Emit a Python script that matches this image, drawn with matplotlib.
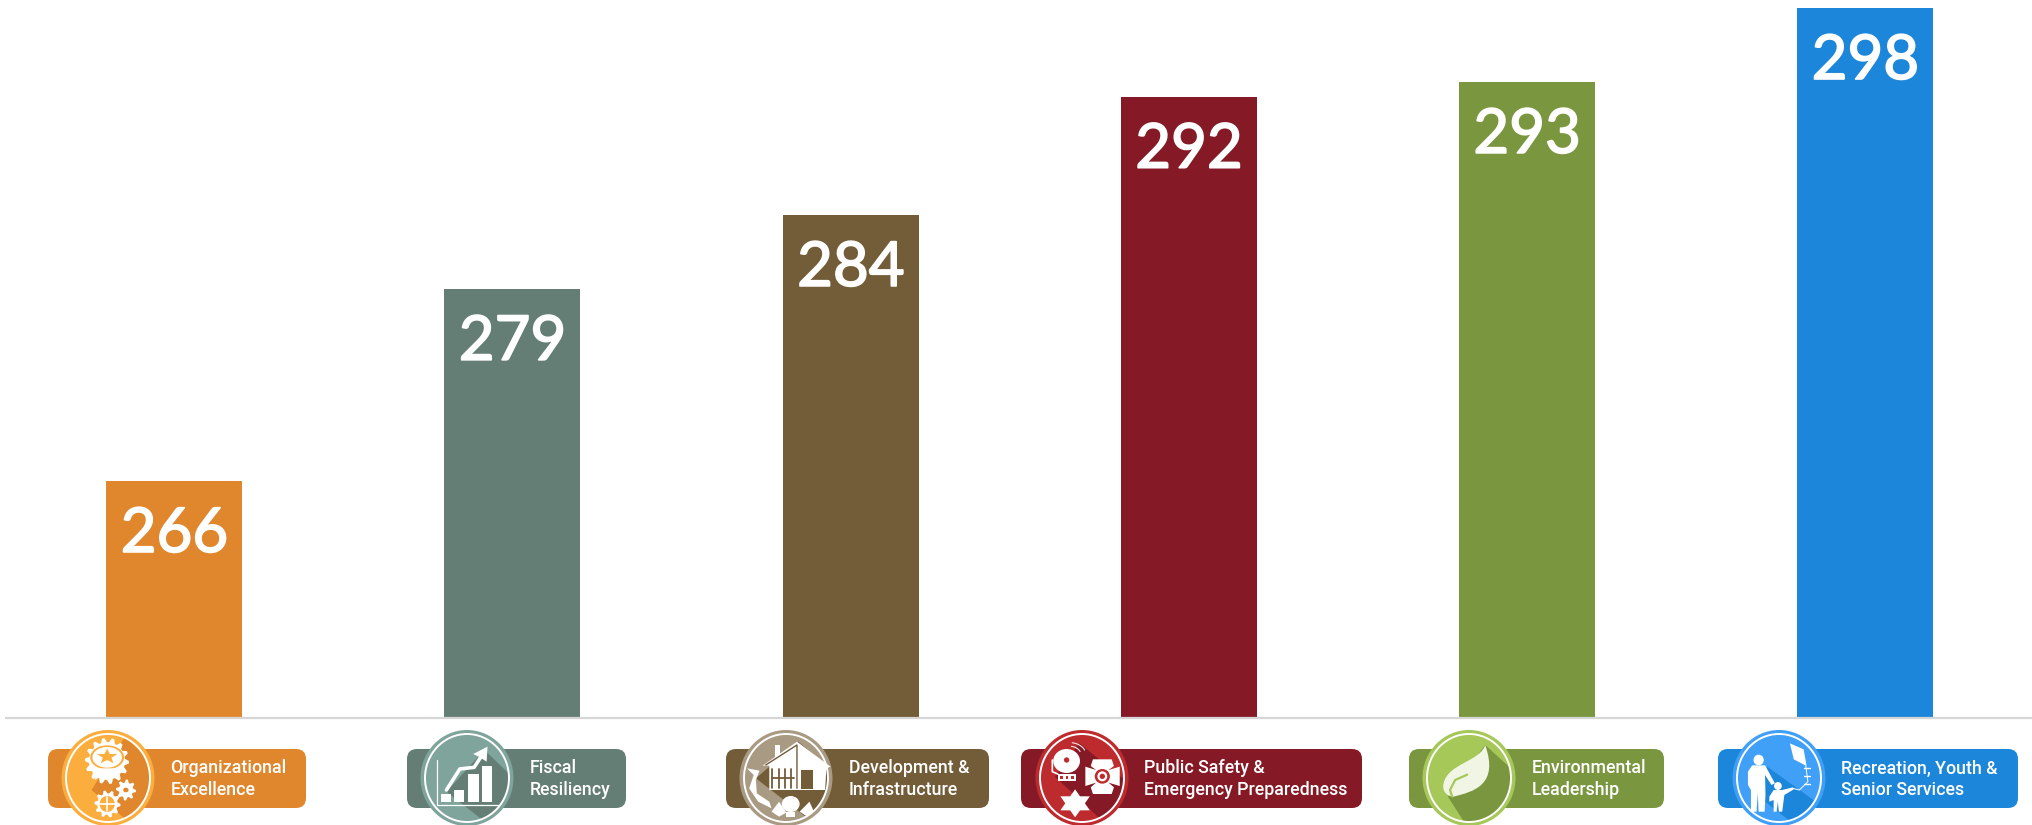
import numpy as np
import matplotlib
matplotlib.use('Agg')
import matplotlib.pyplot as plt
import matplotlib.patheffects as pe
from matplotlib.patches import Ellipse, FancyBboxPatch, Polygon, Rectangle, PathPatch
from matplotlib.path import Path

# chart values
categories = ['Organizational\nExcellence', 'Fiscal\nResiliency', 'Development &\nInfrastructure',
              'Public Safety &\nEmergency Preparedness', 'Environmental\nLeadership',
              'Recreation, Youth &\nSenior Services']
values = [266, 279, 284, 292, 293, 298]

# styling
bar_colors = ['#E0872D', '#647E75', '#735C38', '#851A26', '#7A973F', '#1C86DA']
light_colors = ['#FBAE3E', '#7FA49C', '#A99A83', '#BE2B2E', '#A5C859', '#409FF7']

# badge layout in pixels: pill left, pill right, ellipse centre, text left
pill_left = [48, 407, 726, 1021, 1409, 1718]
pill_right = [306, 626, 989, 1362, 1664, 2018]
badge_cx = [108, 467, 786, 1082, 1469, 1779]
text_left = [170.5, 529.5, 849, 1144, 1531.5, 1841]

W, H = 2032, 825
base_px = 717
fig = plt.figure(figsize=(W / 100, H / 100), dpi=100)
ax = fig.add_axes([0, (H - base_px) / H, 1, base_px / H])
px_per_unit = 14.78
x_step = 338.2
x_first = 174.3
ax.set_xlim(-x_first / x_step, (W - x_first) / x_step)
ax.set_ylim(250.03, 250.03 + base_px / px_per_unit)
ax.axis('off')

bars = ax.bar(range(len(values)), values, width=136 / x_step, color=bar_colors)
for i, v in enumerate(values):
    ax.annotate(str(v), (i, v), xytext=(0, -71 * 0.72), textcoords='offset points',
                ha='center', va='baseline', color='white', fontsize=44.5, family='Lato',
                path_effects=[pe.withStroke(linewidth=1.2, foreground='white')])

# overlay in pixel coordinates for the axis rule and the badges
deco = fig.add_axes([0, 0, 1, 1], zorder=5)
deco.set_xlim(0, W)
deco.set_ylim(H, 0)
deco.axis('off')
deco.patch.set_alpha(0)
deco.plot([5, W], [718.2, 718.2], color='#D6D6D6', lw=1.6, solid_capstyle='butt')


def gear(cx, cy, r, n, inner=0.78):
    a = np.linspace(0, 2 * np.pi, n * 4, endpoint=False)
    rr = np.where(np.arange(n * 4) % 4 < 2, r, r * inner)
    return np.column_stack([cx + rr * np.cos(a), cy + rr * np.sin(a) * 1.05])


def star(cx, cy, r, n, inner=0.45):
    a = np.linspace(-np.pi / 2, 1.5 * np.pi, n * 2, endpoint=False)
    rr = np.where(np.arange(n * 2) % 2 == 0, r, r * inner)
    return np.column_stack([cx + rr * np.cos(a), cy + rr * np.sin(a)])


# icon coordinates below are in the x0 + x/s, 700 + y/3 space of the badge crops
def conv(pts, x0, s):
    return [(x0 + x / s, 700 + y / 3) for x, y in pts]


def poly(pts, x0, s, color='white', **kw):
    p = Polygon(conv(pts, x0, s), closed=True, color=color, lw=0, **kw)
    deco.add_patch(p)
    return p


def line(pts, x0, s, color='white', lw=1.5):
    xy = np.array(conv(pts, x0, s))
    deco.plot(xy[:, 0], xy[:, 1], color=color, lw=lw, solid_capstyle='round')


def ell(x, y, rx, ry, x0, s, color='white', **kw):
    e = Ellipse((x0 + x / s, 700 + y / 3), 2 * rx / s, 2 * ry / 3, color=color, lw=0, **kw)
    deco.add_patch(e)
    return e


def rect(x1, y1, x2, y2, x0, s, color='white'):
    deco.add_patch(Rectangle((x0 + x1 / s, 700 + y1 / 3), (x2 - x1) / s, (y2 - y1) / 3, color=color, lw=0))


def icon_excellence(c, l):
    x0, s = 0, 2.24
    deco.add_patch(Polygon(gear(107, 761, 22, 14, 0.82), color='white', lw=0))
    ell(240, 172, 38, 36, x0, s, color=l)
    ell(240, 172, 33, 31, x0, s)
    poly(star(240, 170, 24, 5, 0.42), x0, s, color=l)
    poly([(222, 205), (258, 205), (268, 240), (250, 226), (240, 242), (230, 226), (212, 240)], x0, s)
    deco.add_patch(Polygon(gear(126, 790, 10, 8, 0.72), color='white', lw=0))
    ell(282, 270, 6, 7, x0, s, color=c)
    deco.add_patch(Polygon(gear(107.5, 804, 13, 10, 0.78), color='white', lw=0))
    ell(240, 312, 17, 24, x0, s, color=l)
    line([(222, 312), (258, 312)], x0, s, lw=1.2)
    line([(240, 290), (240, 334)], x0, s, lw=1.2)


def icon_fiscal(c, l):
    x0, s = 0, 2.24
    line([(980, 180), (980, 315), (1115, 315)], x0, s, lw=0.9)
    rect(988, 282, 1010, 306, x0, s)
    rect(1018, 270, 1040, 306, x0, s)
    rect(1048, 222, 1072, 306, x0, s)
    rect(1080, 198, 1102, 306, x0, s)
    line([(1000, 270), (1030, 207), (1062, 202), (1080, 165)], x0, s, lw=2.6)
    poly([(1092, 140), (1090, 185), (1075, 172), (1060, 162)], x0, s)


def icon_development(c, l):
    x0, s = 680, 2.24
    poly([(185, 197), (262, 125), (337, 200), (328, 205), (325, 270), (200, 270), (200, 197)], x0, s)
    rect(212, 135, 224, 170, x0, s)
    for i in range(4):
        line([(207 + i * 14, 207), (207 + i * 14, 263)], x0, s, color=c, lw=1.3)
    line([(205, 234), (255, 234)], x0, s, color=c, lw=1.3)
    line([(192, 195), (262, 135), (262, 265)], x0, s, color=c, lw=1)
    rect(272, 210, 297, 268, x0, s, color=c)
    poly([(150, 205), (178, 212), (170, 240), (172, 280), (200, 305), (205, 325), (175, 305),
          (155, 265), (165, 225)], x0, s)
    ell(248, 312, 20, 24, x0, s)
    rect(238, 335, 258, 350, x0, s)
    poly([(222, 305), (238, 338), (222, 350), (205, 335)], x0, s)
    poly([(290, 305), (300, 335), (285, 350), (268, 335)], x0, s)


def icon_safety(c, l):
    x0, s = 680, 2.24
    ell(866, 183, 30, 36, x0, s)
    ell(866, 180, 6, 8, x0, s, color=l)
    rect(846, 222, 888, 243, x0, s)
    for xd in (855, 867, 879):
        rect(xd - 3, 229, xd + 3, 236, x0, s, color=l)
    line([(834, 180), (834, 215), (846, 222)], x0, s, lw=1.2)
    for r in (24, 34):
        t = np.linspace(-1.4, -0.4, 12)
        line(list(zip(872 + 1.1 * r * np.cos(t), 165 + 1.1 * r * np.sin(t))), x0, s, lw=0.7)
    # fire cross
    poly([(925, 178), (967, 178), (972, 198), (960, 210), (985, 200), (985, 258), (960, 248), (972, 262), (967, 282),
          (925, 282), (920, 262), (932, 248), (908, 258), (908, 200), (932, 210), (920, 198)], x0, s)
    ell(946, 229, 17, 22, x0, s, color=l)
    ell(946, 229, 11, 15, x0, s)
    ell(946, 229, 6, 8, x0, s, color=l)
    # six point star
    pts = star(0, 0, 1, 6, 0.58)
    poly([(885 + 38 * px, 310 + 42 * py) for px, py in pts], x0, s)


def icon_environment(c, l):
    x0, s = 1360, 2.333
    verts = conv([(292, 135), (280, 185), (205, 190), (195, 250), (190, 275), (205, 290), (218, 290),
                  (265, 275), (325, 255), (292, 135)], x0, s)
    codes = [Path.MOVETO] + [Path.CURVE4] * 9
    deco.add_patch(PathPatch(Path(verts, codes), facecolor='#F1F5E3', lw=0))
    line([(250, 224), (222, 240), (210, 270), (215, 290)], x0, s, color=l, lw=1.6)


def icon_recreation(c, l):
    x0, s = 1360, 2.333
    ell(930, 180, 12, 16, x0, s)
    poly([(915, 196), (945, 196), (968, 250), (960, 255), (945, 225), (946, 285), (944, 335), (930, 335),
          (928, 280), (925, 335), (912, 335), (912, 270), (905, 255), (905, 215)], x0, s)
    ell(975, 258, 9, 12, x0, s)
    poly([(965, 270), (985, 270), (1010, 262), (1012, 268), (990, 285), (988, 305), (985, 335), (977, 335),
          (975, 305), (972, 335), (965, 335), (965, 300), (955, 305), (955, 290)], x0, s)
    poly([(1003, 130), (1035, 148), (1042, 198), (1012, 178)], x0, s)
    line([(1040, 198), (1045, 245), (1025, 270), (1010, 265)], x0, s, lw=0.7)
    for yy in (205, 228, 252):
        line([(1035, yy), (1050, yy)], x0, s, lw=1)


icons = [icon_excellence, icon_fiscal, icon_development, icon_safety, icon_environment, icon_recreation]
# long shadow falling to the lower right of each icon
shadows = [
    [(280, 110), (350, 200), (350, 380), (300, 380), (205, 270)],
    [(1085, 150), (1155, 240), (1155, 380), (1100, 380), (1000, 275)],
    [(265, 125), (345, 215), (345, 380), (310, 380), (170, 235)],
    [(895, 130), (1005, 250), (1005, 380), (960, 380), (840, 230)],
    [(292, 135), (365, 220), (365, 380), (250, 380), (205, 290)],
    [(950, 200), (1090, 330), (1090, 380), (1020, 380), (930, 290)],
]
crop = [(0, 2.24), (0, 2.24), (680, 2.24), (680, 2.24), (1360, 2.333), (1360, 2.333)]

for i, label in enumerate(categories):
    c, l = bar_colors[i], light_colors[i]
    top = 749
    deco.add_patch(FancyBboxPatch((pill_left[i] + 10, top + 10), pill_right[i] - pill_left[i] - 20, 39,
                                  boxstyle='round,pad=10,rounding_size=10', facecolor=c, edgecolor='none'))
    deco.add_patch(Ellipse((badge_cx[i], 778), 93, 96, color=l, lw=0))
    deco.add_patch(Ellipse((badge_cx[i], 778), 84, 88, facecolor='none', edgecolor='white', lw=1.4, zorder=4))
    inner = Ellipse((badge_cx[i], 778), 84, 88, facecolor='none', edgecolor='none')
    deco.add_patch(inner)
    x0, s = crop[i]
    shadow = poly(shadows[i], x0, s, color=c)
    shadow.set_clip_path(inner)
    icons[i](c, l)
    deco.text(text_left[i], 779, label, color='white', fontsize=12.8, family='Roboto', fontweight='medium',
              va='center', ha='left', linespacing=1.22, zorder=6)

fig.savefig('out.png', dpi=100)
